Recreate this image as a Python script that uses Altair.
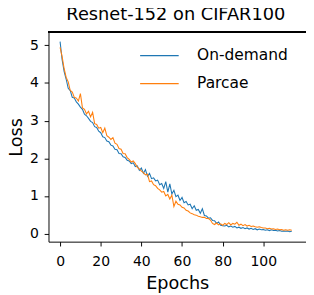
import altair as alt
import pandas as pd

epochs = list(range(115))

on_demand = [
    5.10, 4.62, 4.30, 4.10, 3.86, 3.80, 3.62, 3.60, 3.50, 3.44,
    3.36, 3.30, 3.17, 3.13, 3.06, 2.98, 2.95, 2.84, 2.82, 2.72,
    2.68, 2.57, 2.55, 2.46, 2.44, 2.35, 2.33, 2.24, 2.23, 2.13,
    2.12, 2.04, 2.02, 1.95, 1.93, 1.86, 1.88, 1.78, 1.80, 1.68,
    1.74, 1.60, 1.70, 1.52, 1.60, 1.46, 1.48, 1.40, 1.42, 1.30,
    1.33, 1.20, 1.38, 1.10, 1.32, 1.05, 1.15, 0.98, 1.02, 0.88,
    0.96, 0.82, 0.85, 0.76, 0.78, 0.66, 0.74, 0.62, 0.64, 0.54,
    0.66, 0.48, 0.47, 0.41, 0.42, 0.35, 0.34, 0.27, 0.31, 0.22,
    0.21, 0.20, 0.22, 0.18, 0.20, 0.17, 0.19, 0.15, 0.17, 0.14,
    0.16, 0.13, 0.15, 0.12, 0.14, 0.11, 0.13, 0.10, 0.12, 0.10,
    0.11, 0.09, 0.10, 0.08, 0.10, 0.08, 0.09, 0.07, 0.08, 0.06,
    0.07, 0.06, 0.07, 0.05, 0.06,
]

parcae = [
    4.95, 4.70, 4.38, 4.15, 4.03, 3.80, 3.76, 3.62, 3.60, 3.52,
    3.72, 3.34, 3.30, 3.18, 3.25, 3.10, 3.22, 2.92, 2.90, 2.80,
    2.82, 2.68, 2.80, 2.60, 2.56, 2.50, 2.55, 2.40, 2.37, 2.26,
    2.24, 2.13, 2.12, 2.02, 1.97, 1.90, 1.93, 1.86, 1.76, 1.72,
    1.66, 1.62, 1.56, 1.58, 1.38, 1.40, 1.30, 1.27, 1.20, 1.16,
    1.10, 1.12, 1.00, 1.04, 0.92, 1.02, 0.72, 0.86, 0.78, 0.76,
    0.70, 0.68, 0.62, 0.60, 0.55, 0.53, 0.50, 0.49, 0.46, 0.45,
    0.43, 0.43, 0.40, 0.40, 0.36, 0.27, 0.24, 0.28, 0.23, 0.26,
    0.22, 0.27, 0.24, 0.29, 0.23, 0.27, 0.25, 0.30, 0.22, 0.25,
    0.21, 0.24, 0.20, 0.22, 0.19, 0.20, 0.18, 0.17, 0.18, 0.16,
    0.15, 0.15, 0.13, 0.14, 0.12, 0.13, 0.11, 0.12, 0.10, 0.11,
    0.09, 0.10, 0.09, 0.10, 0.09,
]

series_names = ["On-demand", "Parcae"]
series_colors = ["#1f77b4", "#ff7f0e"]
x_ticks = [0, 20, 40, 60, 80, 100]
y_ticks = [0, 1, 2, 3, 4, 5]

df = pd.concat([
    pd.DataFrame({"Epoch": epochs, "Loss": on_demand, "Series": series_names[0]}),
    pd.DataFrame({"Epoch": epochs, "Loss": parcae, "Series": series_names[1]}),
])

FONT = "DejaVu Sans"
W, H = 267, 217
xscale = alt.Scale(domain=[-5.7, 121.0], nice=False, zero=False)
yscale = alt.Scale(domain=[-0.215, 5.345], nice=False, zero=False)
color = alt.Color(
    "Series:N",
    scale=alt.Scale(domain=series_names, range=series_colors),
    sort=series_names,
    legend=alt.Legend(
        title=None, orient="none", legendX=94, legendY=3,
        symbolType="stroke", symbolSize=1600, symbolStrokeWidth=1.3,
        labelFontSize=16, labelFont=FONT, labelColor="black",
        labelOffset=18, rowPadding=-14, padding=0,
    ),
)

xaxis = alt.Axis(
    values=x_ticks, title="Epochs", grid=False, tickSize=4.5,
    labelFontSize=14.5, labelFont=FONT, labelColor="black",
    titleFontSize=18.3, titleFont=FONT, titleFontWeight="normal", titleColor="black",
    domainColor="black", tickColor="black", labelPadding=9, titlePadding=8,
)
yaxis = alt.Axis(
    values=y_ticks, title="Loss", grid=False, tickSize=4.5,
    labelFontSize=14.5, labelFont=FONT, labelColor="black",
    titleFontSize=18.3, titleFont=FONT, titleFontWeight="normal", titleColor="black",
    domainColor="black", tickColor="black", labelPadding=6, titlePadding=4,
)

lines = alt.Chart(df).mark_line(strokeWidth=1.1, clip=True).encode(
    x=alt.X("Epoch:Q", scale=xscale, axis=xaxis),
    y=alt.Y("Loss:Q", scale=yscale, axis=yaxis),
    color=color,
)

# top spine of the axes frame
top_spine = alt.Chart(df).mark_rule(color="black", strokeWidth=1).encode(
    x=alt.value(0), x2=alt.value(W), y=alt.value(0),
)

chart = alt.layer(lines, top_spine).properties(
    width=W, height=H,
    background="white",
    title=alt.TitleParams(
        "Resnet-152 on CIFAR100", fontSize=18.4, font=FONT, fontWeight="normal",
        anchor="middle", frame="group", baseline="alphabetic", offset=7.6,
        dx=-1.5, dy=14, color="black",
    ),
    autosize=alt.AutoSizeParams(type="none"),
    padding={"left": 42, "top": 20, "right": 0, "bottom": 50},
).configure_view(stroke=None)

chart.save("out.html", embed_options={"renderer": "svg", "actions": False})
